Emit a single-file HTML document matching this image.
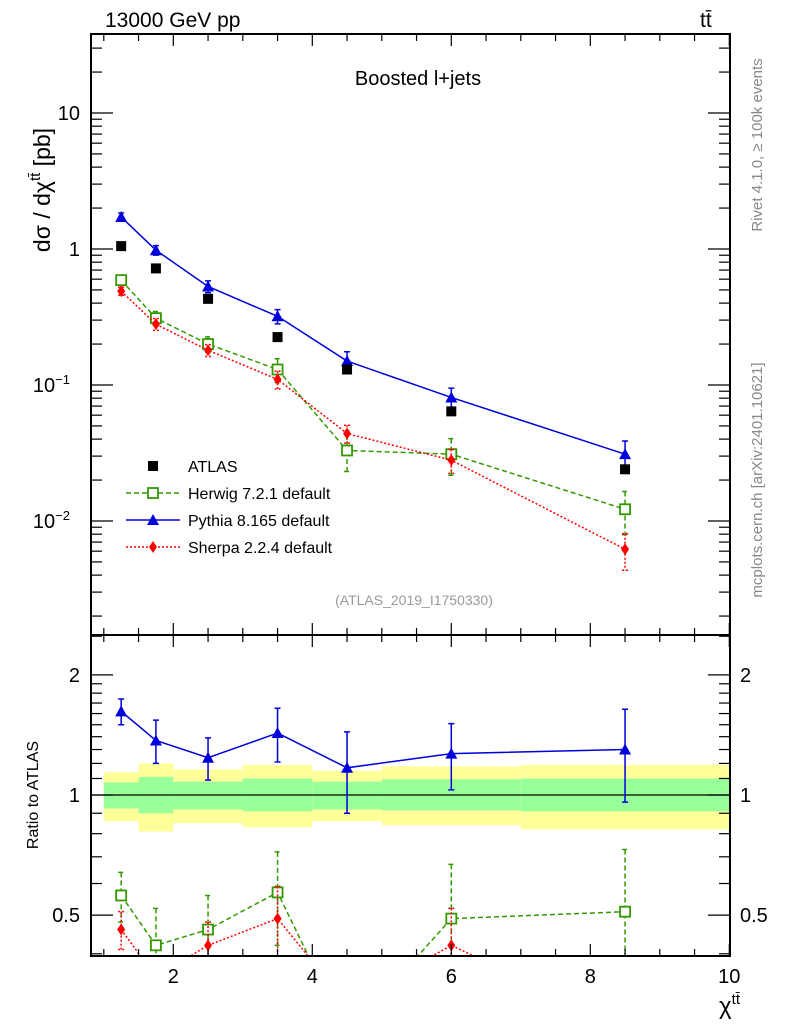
<!DOCTYPE html>
<html><head><meta charset="utf-8"><style>
html,body{margin:0;padding:0;background:#fff;overflow:hidden;width:786px;height:1024px;}
svg{font-family:"Liberation Sans",sans-serif;display:block;}
</style></head><body>
<svg id="c" width="786" height="1024" xmlns="http://www.w3.org/2000/svg">
<g id="bands"></g>
<g id="grid"></g>
<g id="marks"></g>
<g id="axes"></g>
<text x="105" y="27" font-size="21">13000 GeV pp</text>
<text x="700" y="27" font-size="21">tt̄</text>
<text x="418" y="85" font-size="20" text-anchor="middle">Boosted l+jets</text>
<text x="414" y="605" font-size="14" fill="#999" text-anchor="middle">(ATLAS_2019_I1750330)</text>
<text transform="translate(50,190) rotate(-90)" font-size="23" text-anchor="middle">dσ / dχ<tspan dy="-10" font-size="15">tt̄</tspan><tspan dy="10"> [pb]</tspan></text>
<text transform="translate(38,795) rotate(-90)" font-size="16" text-anchor="middle">Ratio to ATLAS</text>
<text x="740" y="1014" font-size="24" text-anchor="end">χ<tspan dy="-10" font-size="15">tt̄</tspan></text>
<text transform="translate(762,145) rotate(-90)" font-size="15" fill="#888" text-anchor="middle">Rivet 4.1.0, ≥ 100k events</text>
<text transform="translate(762,480) rotate(-90)" font-size="15" fill="#888" text-anchor="middle">mcplots.cern.ch [arXiv:2401.10621]</text>
<g id="legend"></g>
</svg>
<script>
const xCenters=[1.25,1.75,2.5,3.5,4.5,6,8.5];
const binEdges=[1,1.5,2,3,4,5,7,10];
const atlas=[1.05,0.72,0.43,0.225,0.13,0.064,0.024];
const pythia=[1.72,0.98,0.53,0.32,0.15,0.081,0.031];
const pythiaErr=[0.07,0.08,0.1,0.12,0.17,0.17,0.25];
const herwig=[0.59,0.31,0.2,0.13,0.033,0.031,0.0122];
const herwigErr=[0.08,0.12,0.13,0.2,0.3,0.3,0.35];
const sherpa=[0.49,0.28,0.18,0.11,0.044,0.028,0.0062];
const sherpaErr=[0.07,0.1,0.1,0.15,0.15,0.2,0.3];
const pythiaRatio=[1.62,1.37,1.24,1.43,1.17,1.27,1.30];
const pythiaRatioErr=[0.12,0.17,0.15,0.22,0.27,0.24,0.34];
const herwigRatio=[0.56,0.42,0.46,0.57,0.25,0.49,0.51];
const herwigRatioErr=[0.08,0.1,0.1,0.15,0.05,0.18,0.22];
const sherpaRatio=[0.46,0.35,0.42,0.49,0.3,0.42,0.26];
const sherpaRatioErr=[0.05,0.03,0.06,0.1,0.03,0.1,0.03];
const yellowUp=[0.14,0.2,0.16,0.19,0.15,0.18,0.19];
const yellowDn=[0.14,0.19,0.15,0.17,0.14,0.16,0.18];
const greenUp=[0.075,0.11,0.08,0.1,0.08,0.095,0.1];
const greenDn=[0.075,0.1,0.08,0.09,0.08,0.085,0.09];
const xTicks=[2,4,6,8,10];

const L=91,R=730,T=34,MB=635,RB=956;
const NS='http://www.w3.org/2000/svg';
function X(v){return 173.3+(v-2)*69.5;}
function Y(v){return 113-(Math.log10(v)-1)*136;}
function RY(v){return 795-Math.log10(v)*399;}
function mk(tag,attrs,parent){const e=document.createElementNS(NS,tag);for(const k in attrs)e.setAttribute(k,attrs[k]);document.getElementById(parent).appendChild(e);return e;}

for(let i=0;i<xCenters.length;i++){
  const x0=X(binEdges[i]),x1=X(binEdges[i+1]);
  let y=mk('rect',{x:x0,y:RY(1+yellowUp[i]),width:x1-x0,height:RY(1-yellowDn[i])-RY(1+yellowUp[i]),fill:'#ffff99'},'bands');
  
  
  let g=mk('rect',{x:x0,y:RY(1+greenUp[i]),width:x1-x0,height:RY(1-greenDn[i])-RY(1+greenUp[i]),fill:'#99ff99'},'bands');
  
  
}
let one=mk('line',{x1:L,x2:R,y1:RY(1),y2:RY(1),stroke:'#000','stroke-width':1.3},'grid');



mk('clipPath',{id:'cm'},'marks');mk('rect',{x:L,y:T,width:R-L,height:MB-T},'cm');
mk('clipPath',{id:'cr'},'marks');mk('rect',{x:L,y:MB,width:R-L,height:RB-MB},'cr');
mk('g',{'clip-path':'url(#cm)',id:'gm'},'marks');
mk('g',{'clip-path':'url(#cr)',id:'gr'},'marks');

function marker(type,x,y,color,parent,name){
  let e;
  if(type==='sq')e=mk('rect',{x:x-5,y:y-5,width:10,height:10,fill:'#000'},parent);
  else if(type==='osq')e=mk('rect',{x:x-5,y:y-5,width:10,height:10,fill:'#fff',stroke:color,'stroke-width':1.8},parent);
  else if(type==='tri')e=mk('polygon',{points:`${x},${y-6} ${x-6},${y+5} ${x+6},${y+5}`,fill:color},parent);
  else e=mk('polygon',{points:`${x},${y-6} ${x-4},${y} ${x},${y+6} ${x+4},${y}`,fill:color},parent);
  
  
}
function series(vals,errs,yf,color,dash,type,parent,name){
  const pts=vals.map((v,i)=>X(xCenters[i])+','+yf(v)).join(' ');
  let pl=mk('polyline',{points:pts,fill:'none',stroke:color,'stroke-width':1.5,'stroke-dasharray':dash},parent);
  
  
  vals.forEach((v,i)=>{
    const x=X(xCenters[i]);const y1=yf(v*(1+errs[i])),y2=yf(Math.max(v*(1-errs[i]),1e-6));
    let eb=mk('path',{d:`M${x},${y1}V${y2}M${x-3},${y1}H${x+3}M${x-3},${y2}H${x+3}`,stroke:color,'stroke-width':1.5,'stroke-dasharray':dash,fill:'none'},parent);
    
    
    marker(type,x,yf(v),color,parent,name+'-point');
  });
}
series(herwig,herwigErr,Y,'#339900','5,3','osq','gm','herwig');
series(sherpa,sherpaErr,Y,'#ff0000','2,2','dia','gm','sherpa');
series(pythia,pythiaErr,Y,'#0000dd','','tri','gm','pythia');
atlas.forEach((v,i)=>marker('sq',X(xCenters[i]),Y(v),'#000','gm','atlas-point'));
series(herwigRatio,herwigRatioErr.map((e,i)=>e/herwigRatio[i]),RY,'#339900','5,3','osq','gr','herwig-ratio');
series(sherpaRatio,sherpaRatioErr.map((e,i)=>e/sherpaRatio[i]),RY,'#ff0000','2,2','dia','gr','sherpa-ratio');
series(pythiaRatio,pythiaRatioErr.map((e,i)=>e/pythiaRatio[i]),RY,'#0000dd','','tri','gr','pythia-ratio');

function ln(x1,y1,x2,y2,w){mk('line',{x1,y1,x2,y2,stroke:'#000','stroke-width':w||1.2},'axes');}
function txt(x,y,s,anchor,size,name){const t=mk('text',{x,y,'font-size':size||20,'text-anchor':anchor},'axes');t.textContent=s;return t;}
let fr=mk('rect',{x:L,y:T,width:R-L,height:RB-T,fill:'none',stroke:'#000','stroke-width':2},'axes');


ln(L,MB,R,MB,2);
for(let v=1;v<=10;v+=0.5){const x=X(v);const maj=xTicks.includes(v);const h=maj?12:7;
  ln(x,T,x,T+h);ln(x,MB,x,MB-h);ln(x,MB,x,MB+h);ln(x,RB,x,RB-h);}
xTicks.forEach(v=>txt(X(v),983,String(v),'middle',20,'x-tick-label'));
for(let d=-3;d<=1;d++)for(let m=1;m<=9;m++){const v=m*Math.pow(10,d);const y=Y(v);if(y<T||y>MB)continue;
  const w=m===1?22:11;ln(L,y,L+w,y);ln(R,y,R-w,y);}
txt(80,120,'10','end',20,'y-tick-label');
txt(80,256,'1','end',20,'y-tick-label');
let t1=txt(70,392,'10','end',20,'y-tick-label');let s1=mk('tspan',{dy:-8,'font-size':13},'axes');s1.textContent='−1';t1.appendChild(s1);
let t2=txt(70,528,'10','end',20,'y-tick-label');let s2=mk('tspan',{dy:-8,'font-size':13},'axes');s2.textContent='−2';t2.appendChild(s2);
[0.4,0.5,0.6,0.7,0.8,0.9,1,1.1,1.2,1.3,1.4,1.5,1.6,1.7,1.8,1.9,2,2.5].forEach(v=>{const y=RY(v);if(y<MB||y>RB)return;const maj=(v===0.5||v===1||v===2);const w=maj?22:11;ln(L,y,L+w,y);ln(R,y,R-w,y);});
[[2,'2'],[1,'1'],[0.5,'0.5']].forEach(([v,s])=>{txt(80,RY(v)+7,s,'end',20,'ratio-tick-label');txt(740,RY(v)+7,s,'start',20,'ratio-tick-label-right');});

const legNames=['ATLAS','Herwig 7.2.1 default','Pythia 8.165 default','Sherpa 2.2.4 default'];
const legColors=['#000','#339900','#0000dd','#ff0000'];
const legDash=['','5,3','','2,2'];
const legType=['sq','osq','tri','dia'];
legNames.forEach((n,i)=>{const y=466+i*27;
  if(i>0){let l=mk('line',{x1:126,x2:180,y1:y,y2:y,stroke:legColors[i],'stroke-width':1.5,'stroke-dasharray':legDash[i]},'legend');}
  marker(legType[i],153,y,legColors[i],'legend','legend-marker');
  const t=mk('text',{x:188,y:y+6,'font-size':16},'legend');t.textContent=n;
  
  
});
</script>
</body></html>
